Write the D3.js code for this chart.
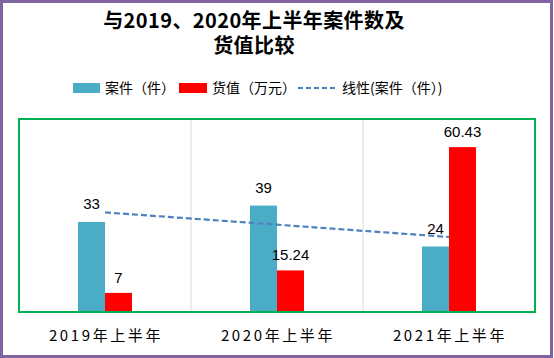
<!DOCTYPE html>
<html><head><meta charset="utf-8">
<script src="https://cdn.jsdelivr.net/npm/d3@7"></script>
<style>
html,body{margin:0;padding:0;background:#fff;}
svg{display:block;}
</style></head>
<body>
<svg id="chart" width="554" height="358"></svg>
<script>
const categories = ["2019年上半年", "2020年上半年", "2021年上半年"];
const seriesNames = ["案件（件）", "货值（万元）"];
const cases = [33, 39, 24];
const values = [7, 15.24, 60.43];
const valueLabels = ["7", "15.24", "60.43"];
const trendName = "线性(案件（件）)";
const titleLines = ["与2019、2020年上半年案件数及", "货值比较"];

const colors = {cases: "#4BACC6", values: "#FF0000", trend: "#4F81BD"};
const svg = d3.select("#chart");
const W = 554, H = 358;
const plot = {left: 19, right: 535, top: 119, bottom: 312};

svg.append("rect").attr("x", 0).attr("y", 0).attr("width", W).attr("height", H).attr("fill", "#fff");

const x = d3.scaleBand().domain(categories).range([plot.left, plot.right]).padding(0);
const y = d3.scaleLinear().domain([0, 70]).range([plot.bottom, 121]);
const inner = d3.scaleBand().domain(seriesNames).range([-27, 27]).padding(0);

// gridlines between categories
svg.append("g").selectAll("line").data(categories.slice(1)).join("line")
  .attr("x1", d => x(d)).attr("x2", d => x(d))
  .attr("y1", plot.top).attr("y2", plot.bottom)
  .attr("stroke", "#D9D9D9").attr("stroke-width", 1);

const center = d => x(d) + x.bandwidth() / 2;

// bars
const rows = categories.map((c, i) => [
  {cat: c, s: seriesNames[0], v: cases[i], label: String(cases[i]), color: colors.cases},
  {cat: c, s: seriesNames[1], v: values[i], label: valueLabels[i], color: colors.values}
]).flat();

svg.append("g").selectAll("rect").data(rows).join("rect")
  .attr("x", d => center(d.cat) + inner(d.s))
  .attr("width", inner.bandwidth())
  .attr("y", d => y(d.v))
  .attr("height", d => y(0) - y(d.v))
  .attr("fill", d => d.color);

// trendline (linear fit of cases)
const xs = cases.map((_, i) => i + 1);
const mx = d3.mean(xs), my = d3.mean(cases);
const slope = d3.sum(xs.map((xi, i) => (xi - mx) * (cases[i] - my))) / d3.sum(xs.map(xi => (xi - mx) ** 2));
const icpt = my - slope * mx;
const trend = categories.map((c, i) => ({cat: c, v: icpt + slope * (i + 1)}));
svg.append("path").datum(trend)
  .attr("d", d3.line().x(d => center(d.cat)).y(d => y(d.v)))
  .attr("fill", "none").attr("stroke", colors.trend).attr("stroke-width", 2.2)
  .attr("stroke-dasharray", "6,3");

// data labels
svg.append("g").selectAll("text").data(rows).join("text")
  .attr("x", d => center(d.cat) + inner(d.s) + inner.bandwidth() / 2)
  .attr("y", d => y(d.v) - (d.s === seriesNames[0] ? 13 : 10))
  .attr("text-anchor", "middle")
  .attr("font-family", "'Liberation Sans', Arial, sans-serif")
  .attr("font-size", 15).attr("fill", "#000")
  .text(d => d.label);

// plot border
svg.append("rect").attr("x", plot.left).attr("y", plot.top)
  .attr("width", plot.right - plot.left).attr("height", plot.bottom - plot.top)
  .attr("fill", "none").attr("stroke", "#00B050").attr("stroke-width", 2);

// category axis labels
svg.append("g").selectAll("text").data(categories).join("text")
  .attr("x", d => center(d) + 1)
  .attr("y", 341)
  .attr("text-anchor", "middle")
  .attr("font-family", "'Noto Sans CJK SC', sans-serif")
  .attr("font-size", 15).attr("letter-spacing", 2.6).attr("fill", "#000")
  .text(d => d);

// title
svg.append("g").selectAll("text").data(titleLines).join("text")
  .attr("x", 254).attr("y", (d, i) => 27.5 + i * 25)
  .attr("text-anchor", "middle")
  .attr("font-family", "'Noto Sans CJK SC', sans-serif")
  .attr("font-weight", "bold").attr("font-size", 20).attr("letter-spacing", 0.4).attr("fill", "#000")
  .text(d => d);

// legend
const lg = svg.append("g").attr("font-family", "'Noto Sans CJK SC', sans-serif").attr("font-size", 14).attr("fill", "#000");
lg.append("rect").attr("x", 73).attr("y", 83).attr("width", 27).attr("height", 10).attr("fill", colors.cases);
lg.append("text").attr("x", 105).attr("y", 93).text(seriesNames[0]);
lg.append("rect").attr("x", 179).attr("y", 83).attr("width", 28).attr("height", 10).attr("fill", colors.values);
lg.append("text").attr("x", 212).attr("y", 93).text(seriesNames[1]);
lg.append("line").attr("x1", 298).attr("x2", 337).attr("y1", 88).attr("y2", 88)
  .attr("stroke", colors.trend).attr("stroke-width", 2).attr("stroke-dasharray", "5,3");
lg.append("text").attr("x", 342).attr("y", 93).text(trendName);

// outer border
svg.append("rect").attr("x", 1.5).attr("y", 1.5).attr("width", 550).attr("height", 355)
  .attr("fill", "none").attr("stroke", "#8064A2").attr("stroke-width", 3);
</script>
</body></html>
